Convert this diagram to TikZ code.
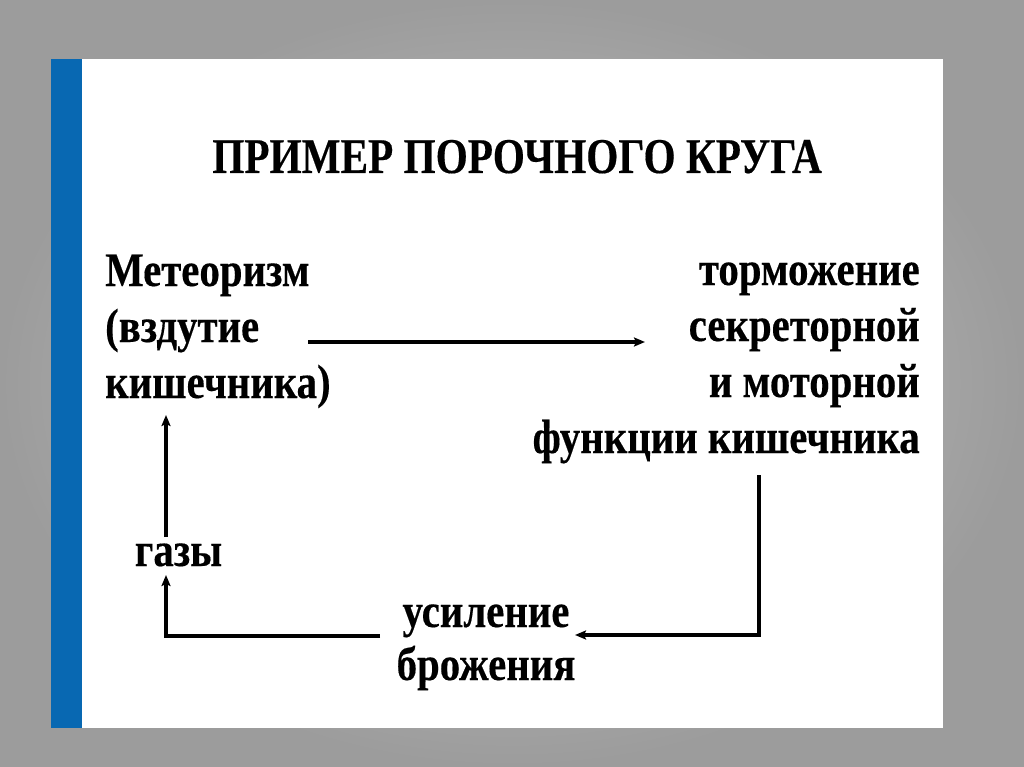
\documentclass[tikz,border=0pt]{standalone}
\usepackage{fontspec}
\setmainfont{Liberation Serif}
\newfontfamily\rf[FakeStretch=0.85, BoldFeatures={FakeBold=0.3}]{Liberation Serif}
\newfontfamily\rt[FakeStretch=0.825, BoldFeatures={FakeBold=0.3}]{Liberation Serif}
\usetikzlibrary{arrows.meta,calc}
\definecolor{bluebar}{RGB}{8,104,178}
\definecolor{bgin}{RGB}{200,200,200}
\definecolor{bgout}{RGB}{156,156,156}
\begin{document}
\begin{tikzpicture}[x=1pt,y=-1pt,
  txt/.style={inner sep=0pt, font=\rf\bfseries\fontsize{48}{56}\selectfont},
  ttl/.style={inner sep=0pt, font=\rt\bfseries\fontsize{50}{56}\selectfont},
  arr/.style={line width=3.2pt, -{Stealth[length=11pt,width=9pt,inset=2pt]}}]
\useasboundingbox (0,0) rectangle (1024,767);
\shade[inner color=bgin, outer color=bgout] (0,0) rectangle (1024,767);
\fill[white] (52,59) rectangle (943,728);
\fill[bluebar] (51,59) rectangle (82,728);
\node[ttl, anchor=base] (title) at (517,173) {ПРИМЕР ПОРОЧНОГО КРУГА};
\node[txt, anchor=base west, align=left] (met) at (105,398) {Метеоризм\\(вздутие\\кишечника)};
\node[txt, anchor=base east, align=right] (torm) at (920,453) {торможение\\секреторной\\и моторной\\функции кишечника};
\node[txt, anchor=base] (gaz) at (178.5,566) {газы};
\node[txt, anchor=base, align=center, font=\rf\bfseries\fontsize{48}{53}\selectfont] (bro) at (486,680) {усиление\\брожения};
\draw[arr] ($(met.base west)+(203,-56)$) -- ($(torm.base east)+(-275,-111)$);
\draw[arr] ($(gaz.base)+(-12.5,-29)$) -- ($(met.base west)+(61,17)$);
\draw[arr] ($(bro.base)+(-106,-44)$) -| ($(gaz.base)+(-12.5,9)$);
\draw[arr] ($(torm.base east)+(-161,22)$) |- ($(bro.base)+(89,-45)$);
\end{tikzpicture}
\end{document}
